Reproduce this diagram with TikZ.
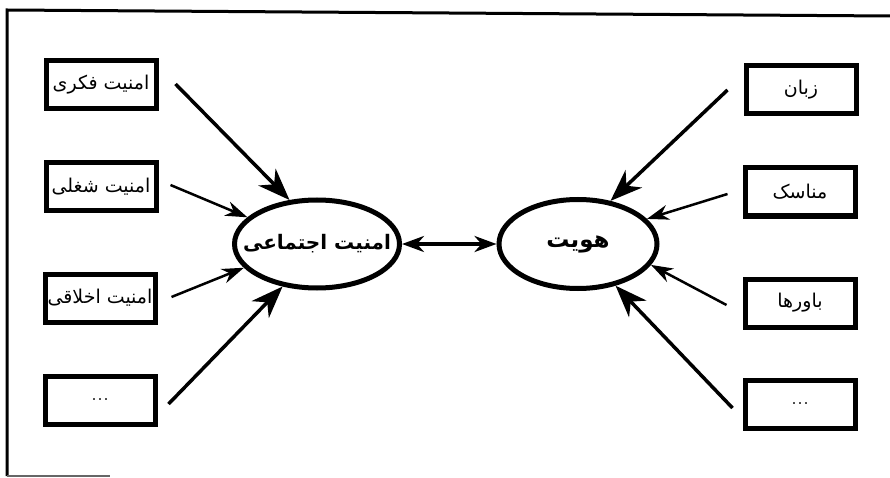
\documentclass[tikz,border=0pt]{standalone}
\usepackage{fontspec}
\TeXXeTstate=1
\newfontfamily\arabicfont[Script=Arabic]{DejaVu Sans}
\usetikzlibrary{shapes.geometric,arrows.meta}
\newcommand{\rtltext}[1]{\makebox[0pt]{\beginR #1\endR}}
\tikzset{
  boxnode/.style={draw,line width=5pt,minimum width=110pt,minimum height=48pt,inner sep=0pt,font=\arabicfont\fontsize{19}{24}\selectfont},
  dotsnode/.style={boxnode,font=\fontsize{24}{26}\selectfont},
  ellnode/.style={draw,ellipse,line width=5pt,inner sep=0pt},
  elltext/.style={font=\arabicfont\bfseries\fontsize{20}{24}\selectfont,inner sep=0pt},
  bigarr/.style={line width=3.5pt,-{Stealth[length=32pt,width=24pt,inset=10pt]}},
  smallarr/.style={line width=2.5pt,-{Stealth[length=22pt,width=15pt,inset=7pt]}},
  dblarr/.style={line width=3.5pt,{Stealth[length=22pt,width=16pt,inset=7pt]}-{Stealth[length=22pt,width=16pt,inset=7pt]}},
  framel/.style={line width=3pt}
}
\begin{document}
\begin{tikzpicture}[x=1pt,y=-1pt]
\useasboundingbox (0,0) rectangle (890,478);
% frame
\coordinate (ftl) at (7,10);
\coordinate (ftr) at (890,16);
\coordinate (fbl) at (7,476);
\coordinate (fbr) at (110,476);
\draw[framel] (ftr) -- (ftl) -- (fbl);
\draw[line width=1.2pt,black!60] (fbl) -- (fbr);
% left boxes
\node[boxnode] (L1) at (101,85) {\rtltext{امنیت فکری}};
\node[boxnode] (L2) at (101,187) {\rtltext{امنیت شغلی}};
\node[boxnode] (L3) at (100,298) {\rtltext{امنیت اخلاقی}};
\node[dotsnode] (L4) at (100,400) {...};
% right boxes
\node[boxnode] (R1) at (801,90) {\rtltext{زبان}};
\node[boxnode] (R2) at (800,192) {\rtltext{مناسک}};
\node[boxnode] (R3) at (800,303) {\rtltext{باورها}};
\node[dotsnode] (R4) at (800,404) {...};
% ellipses
\node[ellnode,minimum width=165pt,minimum height=88pt,
  label={[elltext]center:\beginR امنیت اجتماعی\endR}] (E1) at (317,244) {};
\node[ellnode,minimum width=158pt,minimum height=89pt,
  label={[elltext,font=\arabicfont\bfseries\fontsize{23}{26}\selectfont]center:\beginR هویت\endR}] (E2) at (578,244) {};
% arrows
\draw[bigarr] ([xshift=17pt,yshift=1pt]L1.east) -- (E1.122);
\draw[smallarr] ([xshift=12pt,yshift=2pt]L2.east) -- (E1.159);
\draw[smallarr] ([xshift=14pt,yshift=1pt]L3.east) -- (E1.198);
\draw[bigarr] ([xshift=11pt,yshift=-4pt]L4.east) -- (E1.231);
\draw[bigarr] ([xshift=-16pt]R1.west) -- (E2.53);
\draw[smallarr] ([xshift=-15pt,yshift=-2pt]R2.west) -- (E2.20);
\draw[smallarr] ([xshift=-16pt,yshift=-2pt]R3.west) -- (E2.344);
\draw[bigarr] ([xshift=-10pt,yshift=-4pt]R4.west) -- (E2.312);
\draw[dblarr] (E1.east) -- (E2.west);
\end{tikzpicture}
\end{document}
